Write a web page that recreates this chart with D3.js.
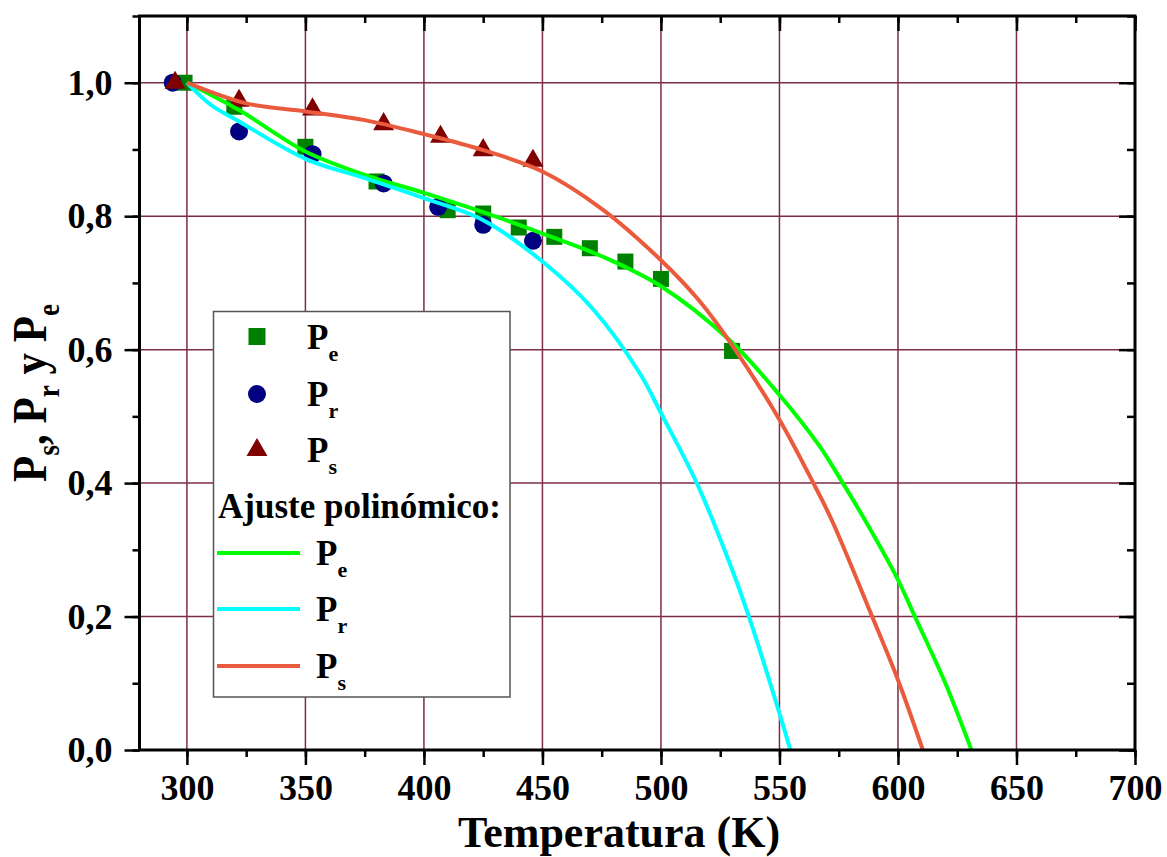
<!DOCTYPE html>
<html>
<head>
<meta charset="utf-8">
<script src="https://cdn.jsdelivr.net/npm/d3@7"></script>
<style>
  body { margin: 0; background: #fff; }
  svg text { font-family: "Liberation Serif", "Times New Roman", serif; font-weight: bold; fill: #000; }
</style>
</head>
<body>
<svg id="viz" width="1167" height="857"></svg>
<script>
// measured points
var tempE = [299, 320, 350, 380, 410, 425, 440, 455, 470, 485, 500, 530];
var valE  = [1.0, 0.964, 0.904, 0.852, 0.809, 0.804, 0.783, 0.769, 0.752, 0.732, 0.706, 0.598];
var tempR = [294, 322, 353, 383, 406, 425, 446];
var valR  = [1.0, 0.927, 0.893, 0.849, 0.814, 0.787, 0.763];
var tempS = [295, 322, 353, 383, 407, 425, 446];
var valS  = [1.0, 0.973, 0.960, 0.938, 0.919, 0.899, 0.883];

// polynomial fit curves
var fitTempE = [300, 322, 350, 375, 400, 425, 450, 475, 500, 529, 550, 567, 575, 586, 600, 607, 620, 631];
var fitValE  = [1.0, 0.959, 0.897, 0.862, 0.835, 0.806, 0.774, 0.740, 0.695, 0.614, 0.532, 0.455, 0.410, 0.345, 0.255, 0.201, 0.100, 0.0];
var fitTempR = [300, 310, 322, 350, 375, 400, 425, 450, 471, 491, 500, 515, 529, 537, 550, 554.6];
var fitValR  = [1.0, 0.967, 0.942, 0.886, 0.857, 0.827, 0.794, 0.732, 0.662, 0.565, 0.505, 0.401, 0.280, 0.201, 0.055, 0.0];
var fitTempS = [300, 325, 350, 375, 400, 425, 450, 475, 500, 516, 529, 550, 564, 572, 589, 600, 610.5];
var fitValS  = [1.0, 0.969, 0.957, 0.944, 0.923, 0.899, 0.867, 0.811, 0.734, 0.674, 0.612, 0.495, 0.402, 0.345, 0.201, 0.105, 0.0];

var xTicks = [300, 350, 400, 450, 500, 550, 600, 650, 700];
var yTicks = [0, 0.2, 0.4, 0.6, 0.8, 1.0];

var box = {left: 139.5, right: 1135, top: 16, bottom: 750};
var gridColor = "#7d2c45";

var svg = d3.select("#viz");
var x = d3.scaleLinear().domain([280, 700]).range([box.left, box.right]);
var y = d3.scaleLinear().domain([0, 1.1]).range([box.bottom, box.top]);

var comma = d3.formatLocale({decimal: ",", thousands: ".", grouping: [3], currency: ["", ""]}).format(".1f");

function zip(a, b) { return a.map(function(t, i) { return {t: t, v: b[i]}; }); }

// grid
svg.append("g").selectAll("line").data(xTicks.filter(function(d){ return d < 700; })).enter().append("line")
  .attr("x1", function(d){ return x(d); }).attr("x2", function(d){ return x(d); })
  .attr("y1", box.top).attr("y2", box.bottom)
  .attr("stroke", gridColor).attr("stroke-width", 1.5);
svg.append("g").selectAll("line").data(yTicks.filter(function(d){ return d > 0; })).enter().append("line")
  .attr("x1", box.left).attr("x2", box.right)
  .attr("y1", function(d){ return y(d); }).attr("y2", function(d){ return y(d); })
  .attr("stroke", gridColor).attr("stroke-width", 1.5);

// scatter
var g = svg.append("g");
g.selectAll(".sq").data(zip(tempE, valE)).enter().append("rect")
  .attr("x", function(d){ return x(d.t) - 8; }).attr("y", function(d){ return y(d.v) - 8; })
  .attr("width", 16).attr("height", 16).attr("fill", "#008000");
g.selectAll(".ci").data(zip(tempR, valR)).enter().append("circle")
  .attr("cx", function(d){ return x(d.t); }).attr("cy", function(d){ return y(d.v); })
  .attr("r", 9).attr("fill", "#000080");
var tri = d3.symbol().type(d3.symbolTriangle).size(190);
g.selectAll(".tr").data(zip(tempS, valS)).enter().append("path")
  .attr("transform", function(d){ return "translate(" + x(d.t) + "," + y(d.v) + ")"; })
  .attr("d", tri).attr("fill", "#800000");

// fit lines
var line = d3.line().x(function(d){ return x(d.t); }).y(function(d){ return y(d.v); }).curve(d3.curveCatmullRom);
[[fitTempE, fitValE, "#00ff00"], [fitTempR, fitValR, "#00ffff"], [fitTempS, fitValS, "#ea5a3c"]].forEach(function(s){
  svg.append("path").datum(zip(s[0], s[1])).attr("d", line)
    .attr("fill", "none").attr("stroke", s[2]).attr("stroke-width", 4);
});

// axes
function styleAxis(sel) {
  sel.select(".domain").remove();
  sel.selectAll("line").attr("stroke", "#000").attr("stroke-width", 2.5);
  sel.selectAll("text").style("font-size", "36px");
}
var xMinor = d3.range(300, 701, 25);
var yMinor = d3.range(0, 1.11, 0.1);

svg.append("g").attr("transform", "translate(0," + box.bottom + ")")
  .call(d3.axisBottom(x).tickValues(xMinor).tickSize(7).tickFormat(""))
  .call(styleAxis);
svg.append("g").attr("transform", "translate(0," + box.bottom + ")")
  .call(d3.axisBottom(x).tickValues(xTicks).tickSize(15).tickPadding(9).tickFormat(d3.format("d")))
  .call(styleAxis);
svg.append("g").attr("transform", "translate(0," + box.top + ")")
  .call(d3.axisBottom(x).tickValues(xMinor).tickSize(7).tickFormat(""))
  .call(styleAxis);
svg.append("g").attr("transform", "translate(0," + box.top + ")")
  .call(d3.axisBottom(x).tickValues(xTicks).tickSize(15).tickFormat(""))
  .call(styleAxis);

svg.append("g").attr("transform", "translate(" + box.left + ",0)")
  .call(d3.axisLeft(y).tickValues(yMinor).tickSize(7).tickFormat(""))
  .call(styleAxis);
svg.append("g").attr("transform", "translate(" + box.left + ",0)")
  .call(d3.axisLeft(y).tickValues(yTicks).tickSize(15).tickPadding(12).tickFormat(comma))
  .call(styleAxis);
svg.append("g").attr("transform", "translate(" + box.right + ",0)")
  .call(d3.axisLeft(y).tickValues(yMinor).tickSize(8).tickFormat(""))
  .call(styleAxis);
svg.append("g").attr("transform", "translate(" + box.right + ",0)")
  .call(d3.axisLeft(y).tickValues(yTicks).tickSize(16).tickFormat(""))
  .call(styleAxis);

svg.append("rect").attr("x", box.left).attr("y", box.top)
  .attr("width", box.right - box.left).attr("height", box.bottom - box.top)
  .attr("fill", "none").attr("stroke", "#000").attr("stroke-width", 3);

// axis titles
svg.append("text").attr("transform", "translate(619,847)").attr("text-anchor", "middle")
  .style("font-size", "44px").text("Temperatura (K)");

var yt = svg.append("text").attr("transform", "translate(46,393) rotate(-90) scale(1,1.15)")
  .attr("text-anchor", "middle").style("font-size", "43px");
[["P", ""], ["s", "sub"], [", P", ""], ["r", "sub"], [" y P", ""], ["e", "sub"]].forEach(function(p, i){
  var ts = yt.append("tspan").text(p[0]);
  if (p[1] === "sub") ts.attr("dy", 11).style("font-size", "27px");
  else if (i > 0) ts.attr("dy", -11);
});

// legend
var lg = svg.append("g");
lg.append("rect").attr("x", 213.5).attr("y", 311.5).attr("width", 296.5).attr("height", 385.5)
  .attr("fill", "#fff").attr("stroke", "#555").attr("stroke-width", 1.5);

var legendSym = [
  {name: "e", y: 336.5, kind: "sq", color: "#008000"},
  {name: "r", y: 394, kind: "ci", color: "#000080"},
  {name: "s", y: 450, kind: "tr", color: "#800000"}
];
var legendFit = [
  {name: "e", y: 553, color: "#00ff00"},
  {name: "r", y: 609, color: "#00ffff"},
  {name: "s", y: 666, color: "#ea5a3c"}
];
function legendLabel(xp, yp, sub) {
  var t = lg.append("text").attr("x", xp).attr("y", yp + 12).style("font-size", "35px");
  t.append("tspan").text("P");
  t.append("tspan").attr("dy", 12).style("font-size", "22px").text(sub);
}
legendSym.forEach(function(d){
  if (d.kind === "sq") lg.append("rect").attr("x", 257 - 8.5).attr("y", d.y - 8.5).attr("width", 17).attr("height", 17).attr("fill", d.color);
  if (d.kind === "ci") lg.append("circle").attr("cx", 257).attr("cy", d.y).attr("r", 9).attr("fill", d.color);
  if (d.kind === "tr") lg.append("path").attr("transform", "translate(257," + d.y + ")").attr("d", tri).attr("fill", d.color);
  legendLabel(307, d.y, d.name);
});
lg.append("text").attr("x", 218).attr("y", 518).style("font-size", "35px").text("Ajuste polinómico:");
legendFit.forEach(function(d){
  lg.append("line").attr("x1", 217).attr("x2", 300).attr("y1", d.y).attr("y2", d.y)
    .attr("stroke", d.color).attr("stroke-width", 4);
  legendLabel(316, d.y, d.name);
});
</script>
</body>
</html>
